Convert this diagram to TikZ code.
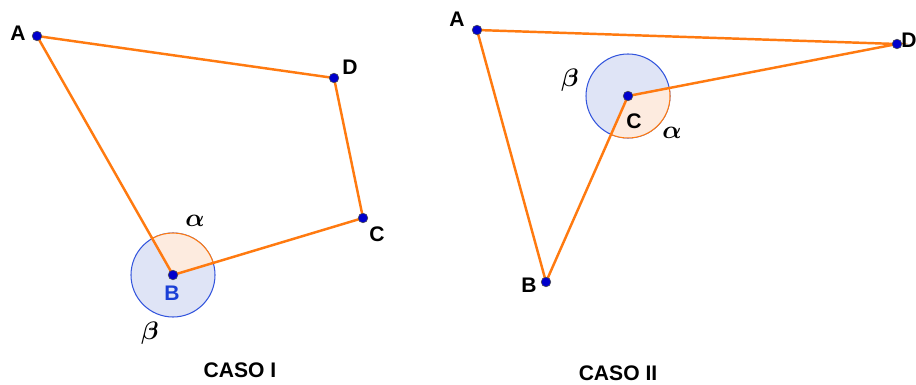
\documentclass[tikz,border=0pt]{standalone}
\usepackage{fontspec}
\usepackage{amsmath}
\setmainfont{Liberation Sans}
\usetikzlibrary{calc}
\definecolor{geoorange}{HTML}{FF7A10}
\definecolor{geoblue}{HTML}{3355DD}
\definecolor{geolabel}{HTML}{1A3FD6}
\definecolor{geofill}{HTML}{DFE4F6}
\definecolor{geoangle}{HTML}{FDEBDF}
\definecolor{geopoint}{HTML}{0000CC}

\begin{document}
\begin{tikzpicture}[x=0.02cm, y=-0.02cm, font=\fontsize{12}{14}\selectfont\bfseries]

\useasboundingbox (0,0) rectangle (916,385);

\tikzset{
  side/.style={geoorange, line width=1.4pt},
  fullangle/.style={draw=geoblue, fill=geofill, line width=0.6pt},
  smallangle/.style={draw=geoorange, fill=geoangle, line width=0.6pt},
  dot/.style={circle, fill=geopoint, draw=black!70, line width=0.3pt, inner sep=0pt, minimum size=5.5pt},
  greek/.style={font=\Large}
}

% -- Caso I --
\coordinate (A1) at (37,36);
\coordinate (D1) at (334,78);
\coordinate (C1) at (363,218);
\coordinate (B1) at (173,275);

% angles at B (y axis points down, so angles are mirrored)
\fill[fullangle] (B1) circle (42);
\filldraw[smallangle] (B1) -- ++(-119.6:42) arc[start angle=-119.6, end angle=-16.7, radius=42] -- cycle;

\draw[side] (A1) -- (D1) -- (C1) -- (B1) -- cycle;

\foreach \p in {A1,B1,C1,D1} {
    \node[dot] at (\p) {};
}

\node (lA1) at (18,33) {A};
\node (lD1) at (350,67) {D};
\node (lC1) at (377,234) {C};
\node[geolabel] (lB1) at (172,293) {B};
\node[greek] (al1) at (195,221) {$\boldsymbol{\alpha}$};
\node[greek] (be1) at (150,333) {$\boldsymbol{\beta}$};

\node (caso1) at (240,370) {CASO I};

% -- Caso II --
\coordinate (A2) at (477,30);
\coordinate (D2) at (897,44);
\coordinate (C2) at (628,96);
\coordinate (B2) at (546,282);

% angles at C
\fill[fullangle] (C2) circle (42);
\filldraw[smallangle] (C2) -- ++(-10.9:42) arc[start angle=-10.9, end angle=113.8, radius=42] -- cycle;

\draw[side] (A2) -- (D2) -- (C2) -- (B2) -- cycle;

\foreach \p in {A2,B2,C2,D2} {
    \node[dot] at (\p) {};
}

\node (lA2) at (457,19) {A};
\node (lD2) at (909,40) {D};
\node (lC2) at (634,121) {C};
\node (lB2) at (529,285) {B};
\node[greek] (be2) at (570,80) {$\boldsymbol{\beta}$};
\node[greek] (al2) at (672,133) {$\boldsymbol{\alpha}$};

\node (caso2) at (618,373) {CASO II};

\end{tikzpicture}
\end{document}
